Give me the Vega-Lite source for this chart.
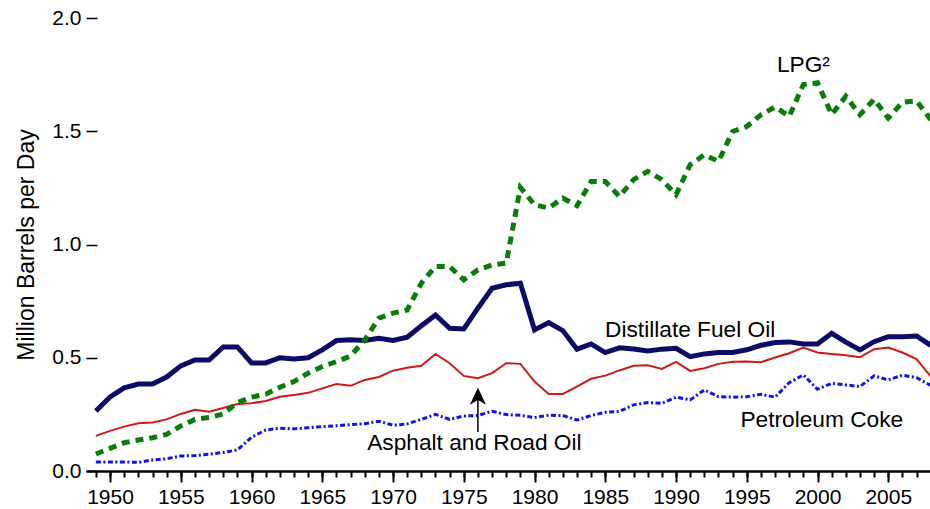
{
  "$schema": "https://vega.github.io/schema/vega-lite/v6.json",
  "autosize": "none",
  "width": 844,
  "height": 453,
  "padding": {"left": 86, "top": 18, "right": 0, "bottom": 38},
  "background": "white",
  "config": {
    "view": {"stroke": null},
    "font": "Liberation Sans",
    "axis": {"grid": false, "labelFont": "Liberation Sans", "titleFont": "Liberation Sans", "labelColor": "black", "titleColor": "black", "tickColor": "black", "domainColor": "black"}
  },
  "resolve": {"axis": {"x": "independent"}},
  "datasets": {
    "series": [
      {"year":1949,"series":"Distillate Fuel Oil","value":0.265},{"year":1950,"series":"Distillate Fuel Oil","value":0.327},{"year":1951,"series":"Distillate Fuel Oil","value":0.367},{"year":1952,"series":"Distillate Fuel Oil","value":0.384},{"year":1953,"series":"Distillate Fuel Oil","value":0.384},{"year":1954,"series":"Distillate Fuel Oil","value":0.415},{"year":1955,"series":"Distillate Fuel Oil","value":0.464},{"year":1956,"series":"Distillate Fuel Oil","value":0.49},{"year":1957,"series":"Distillate Fuel Oil","value":0.49},{"year":1958,"series":"Distillate Fuel Oil","value":0.548},{"year":1959,"series":"Distillate Fuel Oil","value":0.548},{"year":1960,"series":"Distillate Fuel Oil","value":0.477},{"year":1961,"series":"Distillate Fuel Oil","value":0.477},{"year":1962,"series":"Distillate Fuel Oil","value":0.5},{"year":1963,"series":"Distillate Fuel Oil","value":0.495},{"year":1964,"series":"Distillate Fuel Oil","value":0.5},{"year":1965,"series":"Distillate Fuel Oil","value":0.535},{"year":1966,"series":"Distillate Fuel Oil","value":0.576},{"year":1967,"series":"Distillate Fuel Oil","value":0.579},{"year":1968,"series":"Distillate Fuel Oil","value":0.576},{"year":1969,"series":"Distillate Fuel Oil","value":0.586},{"year":1970,"series":"Distillate Fuel Oil","value":0.576},{"year":1971,"series":"Distillate Fuel Oil","value":0.591},{"year":1972,"series":"Distillate Fuel Oil","value":0.641},{"year":1973,"series":"Distillate Fuel Oil","value":0.689},{"year":1974,"series":"Distillate Fuel Oil","value":0.63},{"year":1975,"series":"Distillate Fuel Oil","value":0.627},{"year":1976,"series":"Distillate Fuel Oil","value":0.719},{"year":1977,"series":"Distillate Fuel Oil","value":0.807},{"year":1978,"series":"Distillate Fuel Oil","value":0.822},{"year":1979,"series":"Distillate Fuel Oil","value":0.829},{"year":1980,"series":"Distillate Fuel Oil","value":0.623},{"year":1981,"series":"Distillate Fuel Oil","value":0.655},{"year":1982,"series":"Distillate Fuel Oil","value":0.62},{"year":1983,"series":"Distillate Fuel Oil","value":0.538},{"year":1984,"series":"Distillate Fuel Oil","value":0.561},{"year":1985,"series":"Distillate Fuel Oil","value":0.523},{"year":1986,"series":"Distillate Fuel Oil","value":0.544},{"year":1987,"series":"Distillate Fuel Oil","value":0.539},{"year":1988,"series":"Distillate Fuel Oil","value":0.53},{"year":1989,"series":"Distillate Fuel Oil","value":0.538},{"year":1990,"series":"Distillate Fuel Oil","value":0.542},{"year":1991,"series":"Distillate Fuel Oil","value":0.505},{"year":1992,"series":"Distillate Fuel Oil","value":0.517},{"year":1993,"series":"Distillate Fuel Oil","value":0.523},{"year":1994,"series":"Distillate Fuel Oil","value":0.523},{"year":1995,"series":"Distillate Fuel Oil","value":0.535},{"year":1996,"series":"Distillate Fuel Oil","value":0.555},{"year":1997,"series":"Distillate Fuel Oil","value":0.567},{"year":1998,"series":"Distillate Fuel Oil","value":0.57},{"year":1999,"series":"Distillate Fuel Oil","value":0.561},{"year":2000,"series":"Distillate Fuel Oil","value":0.561},{"year":2001,"series":"Distillate Fuel Oil","value":0.608},{"year":2002,"series":"Distillate Fuel Oil","value":0.569},{"year":2003,"series":"Distillate Fuel Oil","value":0.535},{"year":2004,"series":"Distillate Fuel Oil","value":0.571},{"year":2005,"series":"Distillate Fuel Oil","value":0.593},{"year":2006,"series":"Distillate Fuel Oil","value":0.593},{"year":2007,"series":"Distillate Fuel Oil","value":0.596},{"year":2008,"series":"Distillate Fuel Oil","value":0.555},
      {"year":1949,"series":"Asphalt and Road Oil","value":0.155},{"year":1950,"series":"Asphalt and Road Oil","value":0.177},{"year":1951,"series":"Asphalt and Road Oil","value":0.196},{"year":1952,"series":"Asphalt and Road Oil","value":0.211},{"year":1953,"series":"Asphalt and Road Oil","value":0.214},{"year":1954,"series":"Asphalt and Road Oil","value":0.228},{"year":1955,"series":"Asphalt and Road Oil","value":0.252},{"year":1956,"series":"Asphalt and Road Oil","value":0.27},{"year":1957,"series":"Asphalt and Road Oil","value":0.262},{"year":1958,"series":"Asphalt and Road Oil","value":0.278},{"year":1959,"series":"Asphalt and Road Oil","value":0.296},{"year":1960,"series":"Asphalt and Road Oil","value":0.299},{"year":1961,"series":"Asphalt and Road Oil","value":0.309},{"year":1962,"series":"Asphalt and Road Oil","value":0.328},{"year":1963,"series":"Asphalt and Road Oil","value":0.336},{"year":1964,"series":"Asphalt and Road Oil","value":0.345},{"year":1965,"series":"Asphalt and Road Oil","value":0.365},{"year":1966,"series":"Asphalt and Road Oil","value":0.384},{"year":1967,"series":"Asphalt and Road Oil","value":0.376},{"year":1968,"series":"Asphalt and Road Oil","value":0.402},{"year":1969,"series":"Asphalt and Road Oil","value":0.415},{"year":1970,"series":"Asphalt and Road Oil","value":0.443},{"year":1971,"series":"Asphalt and Road Oil","value":0.456},{"year":1972,"series":"Asphalt and Road Oil","value":0.465},{"year":1973,"series":"Asphalt and Road Oil","value":0.517},{"year":1974,"series":"Asphalt and Road Oil","value":0.476},{"year":1975,"series":"Asphalt and Road Oil","value":0.42},{"year":1976,"series":"Asphalt and Road Oil","value":0.41},{"year":1977,"series":"Asphalt and Road Oil","value":0.432},{"year":1978,"series":"Asphalt and Road Oil","value":0.476},{"year":1979,"series":"Asphalt and Road Oil","value":0.473},{"year":1980,"series":"Asphalt and Road Oil","value":0.395},{"year":1981,"series":"Asphalt and Road Oil","value":0.34},{"year":1982,"series":"Asphalt and Road Oil","value":0.34},{"year":1983,"series":"Asphalt and Road Oil","value":0.373},{"year":1984,"series":"Asphalt and Road Oil","value":0.407},{"year":1985,"series":"Asphalt and Road Oil","value":0.421},{"year":1986,"series":"Asphalt and Road Oil","value":0.444},{"year":1987,"series":"Asphalt and Road Oil","value":0.465},{"year":1988,"series":"Asphalt and Road Oil","value":0.467},{"year":1989,"series":"Asphalt and Road Oil","value":0.451},{"year":1990,"series":"Asphalt and Road Oil","value":0.482},{"year":1991,"series":"Asphalt and Road Oil","value":0.442},{"year":1992,"series":"Asphalt and Road Oil","value":0.454},{"year":1993,"series":"Asphalt and Road Oil","value":0.473},{"year":1994,"series":"Asphalt and Road Oil","value":0.482},{"year":1995,"series":"Asphalt and Road Oil","value":0.483},{"year":1996,"series":"Asphalt and Road Oil","value":0.48},{"year":1997,"series":"Asphalt and Road Oil","value":0.501},{"year":1998,"series":"Asphalt and Road Oil","value":0.52},{"year":1999,"series":"Asphalt and Road Oil","value":0.545},{"year":2000,"series":"Asphalt and Road Oil","value":0.523},{"year":2001,"series":"Asphalt and Road Oil","value":0.517},{"year":2002,"series":"Asphalt and Road Oil","value":0.511},{"year":2003,"series":"Asphalt and Road Oil","value":0.502},{"year":2004,"series":"Asphalt and Road Oil","value":0.538},{"year":2005,"series":"Asphalt and Road Oil","value":0.545},{"year":2006,"series":"Asphalt and Road Oil","value":0.523},{"year":2007,"series":"Asphalt and Road Oil","value":0.494},{"year":2008,"series":"Asphalt and Road Oil","value":0.418},
      {"year":1949,"series":"LPG","value":0.075},{"year":1950,"series":"LPG","value":0.1},{"year":1951,"series":"LPG","value":0.125},{"year":1952,"series":"LPG","value":0.137},{"year":1953,"series":"LPG","value":0.147},{"year":1954,"series":"LPG","value":0.162},{"year":1955,"series":"LPG","value":0.199},{"year":1956,"series":"LPG","value":0.228},{"year":1957,"series":"LPG","value":0.236},{"year":1958,"series":"LPG","value":0.252},{"year":1959,"series":"LPG","value":0.302},{"year":1960,"series":"LPG","value":0.326},{"year":1961,"series":"LPG","value":0.339},{"year":1962,"series":"LPG","value":0.37},{"year":1963,"series":"LPG","value":0.395},{"year":1964,"series":"LPG","value":0.432},{"year":1965,"series":"LPG","value":0.461},{"year":1966,"series":"LPG","value":0.483},{"year":1967,"series":"LPG","value":0.508},{"year":1968,"series":"LPG","value":0.579},{"year":1969,"series":"LPG","value":0.675},{"year":1970,"series":"LPG","value":0.697},{"year":1971,"series":"LPG","value":0.711},{"year":1972,"series":"LPG","value":0.829},{"year":1973,"series":"LPG","value":0.903},{"year":1974,"series":"LPG","value":0.903},{"year":1975,"series":"LPG","value":0.844},{"year":1976,"series":"LPG","value":0.888},{"year":1977,"series":"LPG","value":0.91},{"year":1978,"series":"LPG","value":0.918},{"year":1979,"series":"LPG","value":1.252},{"year":1980,"series":"LPG","value":1.175},{"year":1981,"series":"LPG","value":1.161},{"year":1982,"series":"LPG","value":1.205},{"year":1983,"series":"LPG","value":1.171},{"year":1984,"series":"LPG","value":1.278},{"year":1985,"series":"LPG","value":1.278},{"year":1986,"series":"LPG","value":1.212},{"year":1987,"series":"LPG","value":1.286},{"year":1988,"series":"LPG","value":1.323},{"year":1989,"series":"LPG","value":1.286},{"year":1990,"series":"LPG","value":1.22},{"year":1991,"series":"LPG","value":1.352},{"year":1992,"series":"LPG","value":1.396},{"year":1993,"series":"LPG","value":1.367},{"year":1994,"series":"LPG","value":1.499},{"year":1995,"series":"LPG","value":1.521},{"year":1996,"series":"LPG","value":1.573},{"year":1997,"series":"LPG","value":1.607},{"year":1998,"series":"LPG","value":1.566},{"year":1999,"series":"LPG","value":1.706},{"year":2000,"series":"LPG","value":1.714},{"year":2001,"series":"LPG","value":1.574},{"year":2002,"series":"LPG","value":1.654},{"year":2003,"series":"LPG","value":1.573},{"year":2004,"series":"LPG","value":1.641},{"year":2005,"series":"LPG","value":1.558},{"year":2006,"series":"LPG","value":1.628},{"year":2007,"series":"LPG","value":1.634},{"year":2008,"series":"LPG","value":1.551},
      {"year":1949,"series":"Petroleum Coke","value":0.04},{"year":1950,"series":"Petroleum Coke","value":0.04},{"year":1951,"series":"Petroleum Coke","value":0.04},{"year":1952,"series":"Petroleum Coke","value":0.038},{"year":1953,"series":"Petroleum Coke","value":0.049},{"year":1954,"series":"Petroleum Coke","value":0.054},{"year":1955,"series":"Petroleum Coke","value":0.066},{"year":1956,"series":"Petroleum Coke","value":0.068},{"year":1957,"series":"Petroleum Coke","value":0.074},{"year":1958,"series":"Petroleum Coke","value":0.082},{"year":1959,"series":"Petroleum Coke","value":0.093},{"year":1960,"series":"Petroleum Coke","value":0.149},{"year":1961,"series":"Petroleum Coke","value":0.181},{"year":1962,"series":"Petroleum Coke","value":0.189},{"year":1963,"series":"Petroleum Coke","value":0.186},{"year":1964,"series":"Petroleum Coke","value":0.191},{"year":1965,"series":"Petroleum Coke","value":0.196},{"year":1966,"series":"Petroleum Coke","value":0.2},{"year":1967,"series":"Petroleum Coke","value":0.205},{"year":1968,"series":"Petroleum Coke","value":0.209},{"year":1969,"series":"Petroleum Coke","value":0.22},{"year":1970,"series":"Petroleum Coke","value":0.202},{"year":1971,"series":"Petroleum Coke","value":0.208},{"year":1972,"series":"Petroleum Coke","value":0.228},{"year":1973,"series":"Petroleum Coke","value":0.25},{"year":1974,"series":"Petroleum Coke","value":0.228},{"year":1975,"series":"Petroleum Coke","value":0.243},{"year":1976,"series":"Petroleum Coke","value":0.245},{"year":1977,"series":"Petroleum Coke","value":0.264},{"year":1978,"series":"Petroleum Coke","value":0.249},{"year":1979,"series":"Petroleum Coke","value":0.246},{"year":1980,"series":"Petroleum Coke","value":0.236},{"year":1981,"series":"Petroleum Coke","value":0.246},{"year":1982,"series":"Petroleum Coke","value":0.245},{"year":1983,"series":"Petroleum Coke","value":0.225},{"year":1984,"series":"Petroleum Coke","value":0.245},{"year":1985,"series":"Petroleum Coke","value":0.259},{"year":1986,"series":"Petroleum Coke","value":0.263},{"year":1987,"series":"Petroleum Coke","value":0.292},{"year":1988,"series":"Petroleum Coke","value":0.302},{"year":1989,"series":"Petroleum Coke","value":0.299},{"year":1990,"series":"Petroleum Coke","value":0.326},{"year":1991,"series":"Petroleum Coke","value":0.314},{"year":1992,"series":"Petroleum Coke","value":0.358},{"year":1993,"series":"Petroleum Coke","value":0.328},{"year":1994,"series":"Petroleum Coke","value":0.326},{"year":1995,"series":"Petroleum Coke","value":0.328},{"year":1996,"series":"Petroleum Coke","value":0.339},{"year":1997,"series":"Petroleum Coke","value":0.326},{"year":1998,"series":"Petroleum Coke","value":0.39},{"year":1999,"series":"Petroleum Coke","value":0.424},{"year":2000,"series":"Petroleum Coke","value":0.361},{"year":2001,"series":"Petroleum Coke","value":0.387},{"year":2002,"series":"Petroleum Coke","value":0.38},{"year":2003,"series":"Petroleum Coke","value":0.373},{"year":2004,"series":"Petroleum Coke","value":0.42},{"year":2005,"series":"Petroleum Coke","value":0.402},{"year":2006,"series":"Petroleum Coke","value":0.423},{"year":2007,"series":"Petroleum Coke","value":0.412},{"year":2008,"series":"Petroleum Coke","value":0.378}
    ],
    "labels": [
      {"label": "LPG²", "year": 1999.0, "value": 1.794},
      {"label": "Distillate Fuel Oil", "year": 1991.0, "value": 0.623},
      {"label": "Petroleum Coke", "year": 2000.3, "value": 0.225},
      {"label": "Asphalt and Road Oil", "year": 1975.75, "value": 0.124}
    ],
    "arrow": [
      {"year": 1976, "from": 0.172, "to": 0.33}
    ]
  },
  "layer": [
    {
      "data": {"name": "series"},
      "transform": [{"filter": "datum.series === 'Distillate Fuel Oil'"}],
      "mark": {"type": "line", "color": "#0b0b66", "strokeWidth": 5, "strokeJoin": "miter"},
      "encoding": {
        "x": {"field": "year", "type": "quantitative", "scale": {"domain": [1948.3, 2007.95], "nice": false, "zero": false},
          "axis": {
            "orient": "bottom",
            "values": [1950, 1955, 1960, 1965, 1970, 1975, 1980, 1985, 1990, 1995, 2000, 2005],
            "format": "d",
            "title": null,
            "domainWidth": 2.5,
            "tickWidth": 2,
            "tickSize": 11,
            "labelFontSize": 21,
            "labelPadding": 4,
            "labelFlush": false,
            "labelOverlap": false
          }
        },
        "y": {"field": "value", "type": "quantitative", "scale": {"domain": [0, 2], "nice": false},
          "axis": {
            "values": [0, 0.5, 1.0, 1.5, 2.0],
            "format": ".1f",
            "title": "Million Barrels per Day",
            "titleFontSize": 23,
            "titleFontWeight": "normal",
            "titlePadding": 13,
            "domain": false,
            "offset": -11,
            "tickSize": 11,
            "tickWidth": 1.5,
            "labelFontSize": 21,
            "labelPadding": 5
          }
        }
      }
    },
    {
      "data": {"name": "series"},
      "transform": [{"filter": "datum.series === 'Asphalt and Road Oil'"}],
      "mark": {"type": "line", "color": "#cc1a1a", "strokeWidth": 2},
      "encoding": {
        "x": {"field": "year", "type": "quantitative",
          "axis": {
            "orient": "bottom",
            "values": [1949,1950,1951,1952,1953,1954,1955,1956,1957,1958,1959,1960,1961,1962,1963,1964,1965,1966,1967,1968,1969,1970,1971,1972,1973,1974,1975,1976,1977,1978,1979,1980,1981,1982,1983,1984,1985,1986,1987,1988,1989,1990,1991,1992,1993,1994,1995,1996,1997,1998,1999,2000,2001,2002,2003,2004,2005,2006,2007],
            "labels": false,
            "domain": false,
            "title": null,
            "tickWidth": 2,
            "tickSize": 6
          }
        },
        "y": {"field": "value", "type": "quantitative"}
      }
    },
    {
      "data": {"name": "series"},
      "transform": [{"filter": "datum.series === 'LPG'"}],
      "mark": {"type": "line", "color": "#087d08", "strokeWidth": 5, "strokeDash": [8, 6]},
      "encoding": {"x": {"field": "year", "type": "quantitative", "axis": null}, "y": {"field": "value", "type": "quantitative"}}
    },
    {
      "data": {"name": "series"},
      "transform": [{"filter": "datum.series === 'Petroleum Coke'"}],
      "mark": {"type": "line", "color": "#1010f0", "strokeWidth": 3, "strokeDash": [5, 2.5, 2, 2.5]},
      "encoding": {"x": {"field": "year", "type": "quantitative", "axis": null}, "y": {"field": "value", "type": "quantitative"}}
    },
    {
      "data": {"name": "labels"},
      "mark": {"type": "text", "fontSize": 22.7, "font": "Liberation Sans", "color": "black", "align": "center", "baseline": "middle"},
      "encoding": {"x": {"field": "year", "type": "quantitative", "axis": null}, "y": {"field": "value", "type": "quantitative"}, "text": {"field": "label"}}
    },
    {
      "data": {"name": "arrow"},
      "mark": {"type": "rule", "color": "black", "strokeWidth": 1.5},
      "encoding": {"x": {"field": "year", "type": "quantitative", "axis": null}, "y": {"field": "from", "type": "quantitative"}, "y2": {"field": "to"}}
    },
    {
      "data": {"name": "arrow"},
      "mark": {"type": "point", "shape": "M0,-1L0.95,1L0,0.45L-0.95,1Z", "filled": true, "color": "black", "opacity": 1, "size": 289},
      "encoding": {"x": {"field": "year", "type": "quantitative", "axis": null}, "y": {"field": "to", "type": "quantitative"}}
    }
  ]
}
